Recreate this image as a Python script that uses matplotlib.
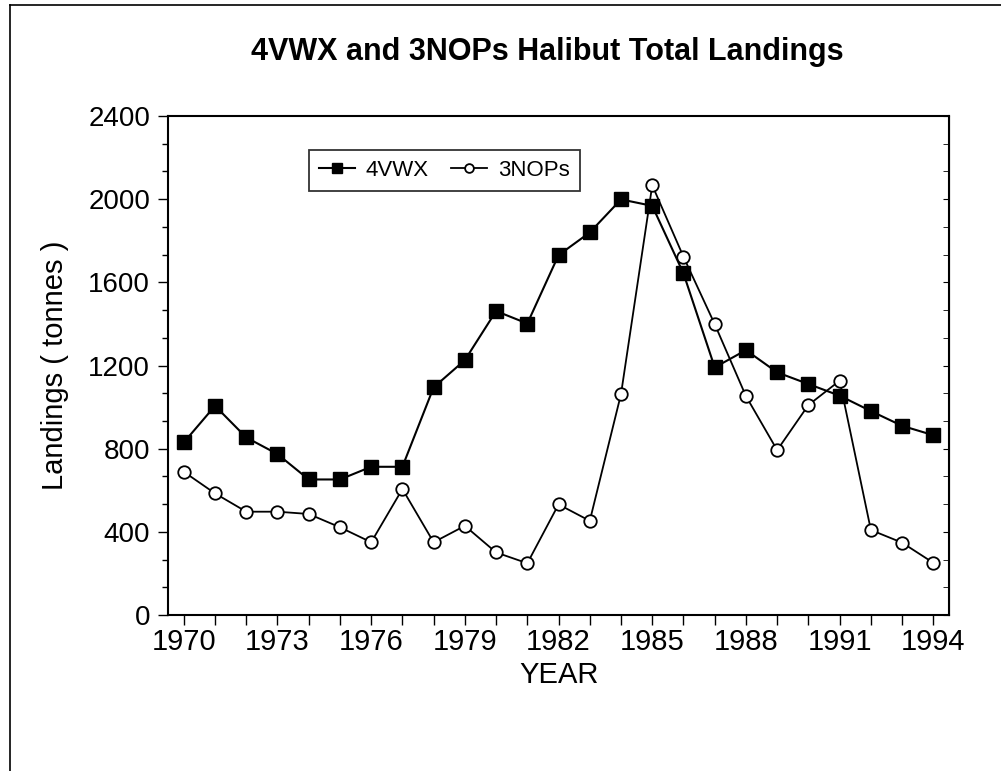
import matplotlib
matplotlib.use("Agg")
import matplotlib.pyplot as plt
from matplotlib.lines import Line2D
from matplotlib.ticker import MultipleLocator

plt.rcParams['font.family'] = ['Liberation Sans', 'DejaVu Sans']

# data
years = list(range(1970, 1995))
vwx = [830, 1006, 854, 774, 652, 652, 713, 713, 1095, 1226,
       1462, 1402, 1731, 1840, 1999, 1968, 1643, 1191, 1274, 1167,
       1111, 1055, 981, 910, 865]
nops = [689, 585, 497, 497, 486, 422, 350, 606, 350, 429,
        301, 249, 532, 453, 1063, 2067, 1723, 1399, 1053, 793,
        1010, 1127, 409, 348, 251]
year_labels = [1970, 1973, 1976, 1979, 1982, 1985, 1988, 1991, 1994]

fig = plt.figure(figsize=(10.01, 7.71), dpi=100)
ax = fig.add_axes([0.168, 0.2023, 0.780, 0.6472])

ax.plot(years, vwx, color='black', lw=1.5, marker='s', ms=9.5,
        mfc='black', mec='black', label='4VWX')
ax.plot(years, nops, color='black', lw=1.3, marker='o', ms=9,
        mfc='white', mec='black', mew=1.3, label='3NOPs')

ax.set_xlim(1969.5, 1994.5)
ax.set_ylim(0, 2400)
ax.set_xticks(years, minor=True)
ax.set_xticks(year_labels)
ax.set_yticks(range(0, 2401, 400))
ax.yaxis.set_minor_locator(MultipleLocator(400 / 3))
ax.tick_params(axis='x', which='both', length=7, width=1, labelsize=21, pad=2)
ax.tick_params(axis='y', which='major', length=7, width=1, labelsize=20, pad=6)
ax.tick_params(axis='y', which='minor', length=4, width=1)

sec = ax.secondary_yaxis('right')
sec.set_yticks(range(0, 2401, 400))
sec.yaxis.set_minor_locator(MultipleLocator(400 / 3))
sec.tick_params(which='both', direction='in', length=4, labelright=False)

for s in ax.spines.values():
    s.set_linewidth(1.5)

ax.set_xlabel('YEAR', fontsize=21, labelpad=4)
ax.set_ylabel('Landings ( tonnes )', fontsize=21, labelpad=14)

fig.text(0.547, 0.932, '4VWX and 3NOPs Halibut Total Landings',
         ha='center', va='center', fontsize=22, fontweight='bold')

leg = ax.legend(loc='upper left', bbox_to_anchor=(0.1805, 0.932), ncol=2,
                fontsize=16, frameon=True, fancybox=False, edgecolor='black',
                handlelength=1.6, handletextpad=0.5, columnspacing=1.0,
                borderpad=0.45, borderaxespad=0, markerscale=0.7)
leg.get_frame().set_linewidth(1.3)

# frame around the whole figure (top and left edges visible)
fig.add_artist(Line2D([0.010, 1.0], [0.994, 0.994], color='black', lw=1.2))
fig.add_artist(Line2D([0.010, 0.010], [0.0, 0.994], color='black', lw=1.2))

fig.savefig('out.png', dpi=100)
